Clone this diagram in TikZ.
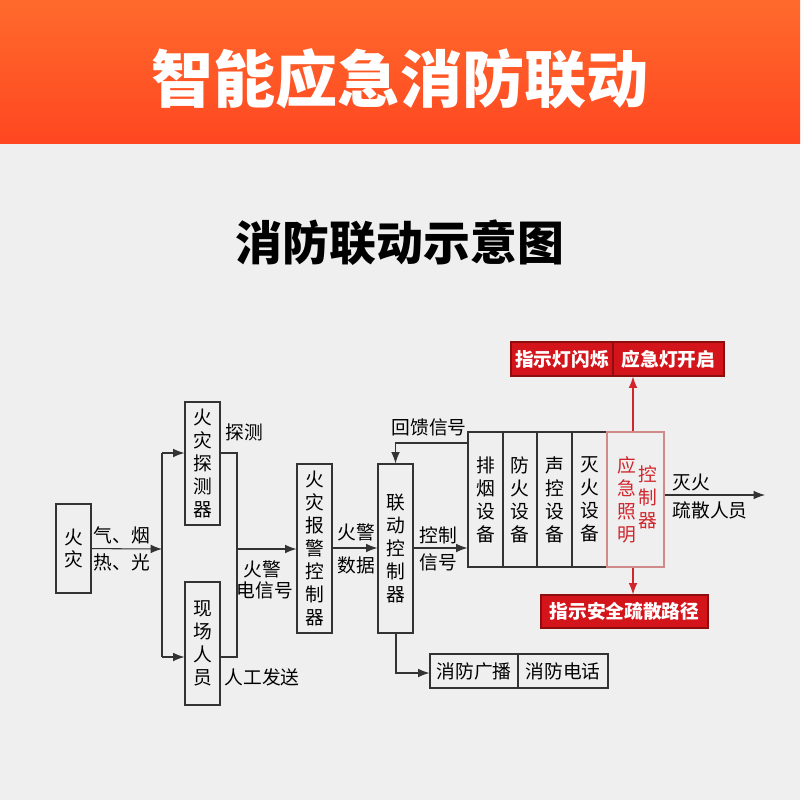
\documentclass[tikz,border=0pt]{standalone}
\usepackage{fontspec}
\setmainfont{Noto Sans CJK SC}
\usetikzlibrary{arrows.meta}
\definecolor{hdtop}{HTML}{FF6A2C}
\definecolor{hdbot}{HTML}{FF4721}
\definecolor{bggray}{HTML}{EFEFEF}
\definecolor{ln}{HTML}{333333}
\definecolor{redbox}{HTML}{D3141B}
\definecolor{redline}{HTML}{8E0E10}
\definecolor{redtxt}{HTML}{D0262C}
\definecolor{pinkln}{HTML}{D08A8C}
\tikzset{
  >={Latex[length=3.4mm,width=2.6mm]},
  box/.style={draw=ln,line width=0.9pt,inner sep=0pt,align=center,
    font=\fontsize{16}{19.6}\selectfont},
  lbl/.style={inner sep=0pt,font=\fontsize{16}{19.6}\selectfont},
  rbox/.style={draw=redline,line width=0.9pt,fill=redbox,text=white,inner sep=0pt,
    minimum height=10.2mm,font=\fontsize{16}{19.6}\selectfont\bfseries},
}
\begin{document}
\begin{tikzpicture}[x=0.3mm,y=-0.3mm,line width=0.9pt,draw=ln]
\useasboundingbox (0,0) rectangle (800,800);
\fill[bggray] (0,0) rectangle (800,800);
\shade[top color=hdtop,bottom color=hdbot] (0,0) rectangle (800,143);
\path
(400,79) node[text=white,font=\fontsize{53}{60}\selectfont\bfseries] (head) {智能应急消防联动}
(400,243) node[font=\fontsize{40}{46}\selectfont\bfseries] (sub) {消防联动示意图}
(73.5,548.5) node[box,minimum width=10.5mm,minimum height=26.7mm] (fire) {火\\灾}
(202.5,463.5) node[box,minimum width=10.5mm,minimum height=36.9mm] (det) {火\\灾\\探\\测\\器}
(202.5,643.5) node[box,minimum width=10.5mm,minimum height=36.9mm] (man) {现\\场\\人\\员}
(314.5,548.5) node[box,minimum width=10.5mm,minimum height=50.7mm] (alarm) {火\\灾\\报\\警\\控\\制\\器}
(395.5,548.5) node[box,minimum width=10.5mm,minimum height=50.7mm] (link) {联\\动\\控\\制\\器}
(485.5,499.5) node[box,minimum width=10.5mm,minimum height=40.5mm] (eq1) {排\\烟\\设\\备}
(520,499.5) node[box,minimum width=10.2mm,minimum height=40.5mm] (eq2) {防\\火\\设\\备}
(554.5,499.5) node[box,minimum width=10.5mm,minimum height=40.5mm] (eq3) {声\\控\\设\\备}
(589.5,499.5) node[box,minimum width=10.5mm,minimum height=40.5mm] (eq4) {灭\\火\\设\\备}
(635.5,499.5) node[box,draw=pinkln,minimum width=17.1mm,minimum height=40.5mm] (eml) {}
(627,500) node[lbl,align=center,text=redtxt] (emlA) {应\\急\\照\\明}
(648,497.5) node[lbl,align=center,text=redtxt] (emlB) {控\\制\\器}
(562,359) node[rbox,minimum width=30.6mm] (top1) {指示灯闪烁}
(668.5,359) node[rbox,minimum width=33.3mm] (top2) {应急灯开启}
(624.5,611.5) node[rbox,minimum width=50.1mm,minimum height=9.9mm] (bot) {指示安全疏散路径}
(474,671) node[box,minimum width=26.4mm,minimum height=10.2mm] (bcast) {消防广播}
(563,671) node[box,minimum width=27mm,minimum height=10.2mm] (phone) {消防电话}
(122,535) node[lbl] (l1) {气、烟}
(122,562) node[lbl] (l2) {热、光}
(244,432) node[lbl] (l3) {探测}
(262,569) node[lbl] (l4) {火警}
(265,590) node[lbl] (l5) {电信号}
(262,677) node[lbl] (l6) {人工发送}
(356,532) node[lbl] (l7) {火警}
(356,565) node[lbl] (l8) {数据}
(438,535) node[lbl] (l9) {控制}
(438,562) node[lbl] (l10) {信号}
(429,427) node[lbl] (l11) {回馈信号}
(672,482) node[lbl,anchor=west] (l12) {灭火}
(672,510) node[lbl,anchor=west] (l13) {疏散人员}
(162,549) coordinate (split)
(162,453) coordinate (dA)
(162,657) coordinate (dB)
(237,453) coordinate (mA)
(237,657) coordinate (mB)
(237,549) coordinate (merge)
(468,443) coordinate (fb)
(396,673) coordinate (down)
(765,495) coordinate (out);
%\draw[help lines] (0,0) grid[step=50] (800,800);
\draw[->] (fire) -- (split);
\draw (dA) -- (dB);
\draw[->] (dA) -- (det.west |- dA);
\draw[->] (dB) -- (man.west |- dB);
\draw (det.east |- mA) -- (mA) -- (mB) -- (man.east |- mB);
\draw[->] (merge) -- (alarm.west |- merge);
\draw[->] (alarm.east |- 0,548) -- (link.west |- 0,548);
\draw[->] (link.east |- 0,548) -- (eq1.west |- 0,548);
\draw[->] (fb) -| (link.north);
\draw[->] (link.south -| down) -- (down) -- (bcast.west |- down);
\draw[->] (eml.east |- out) -- (out);
\draw[->,redtxt] (eml.north -| 633,0) -- (top2.south -| 633,0);
\draw[->,redtxt] (eml.south -| 633,0) -- (bot.north -| 633,0);
\end{tikzpicture}
\end{document}
